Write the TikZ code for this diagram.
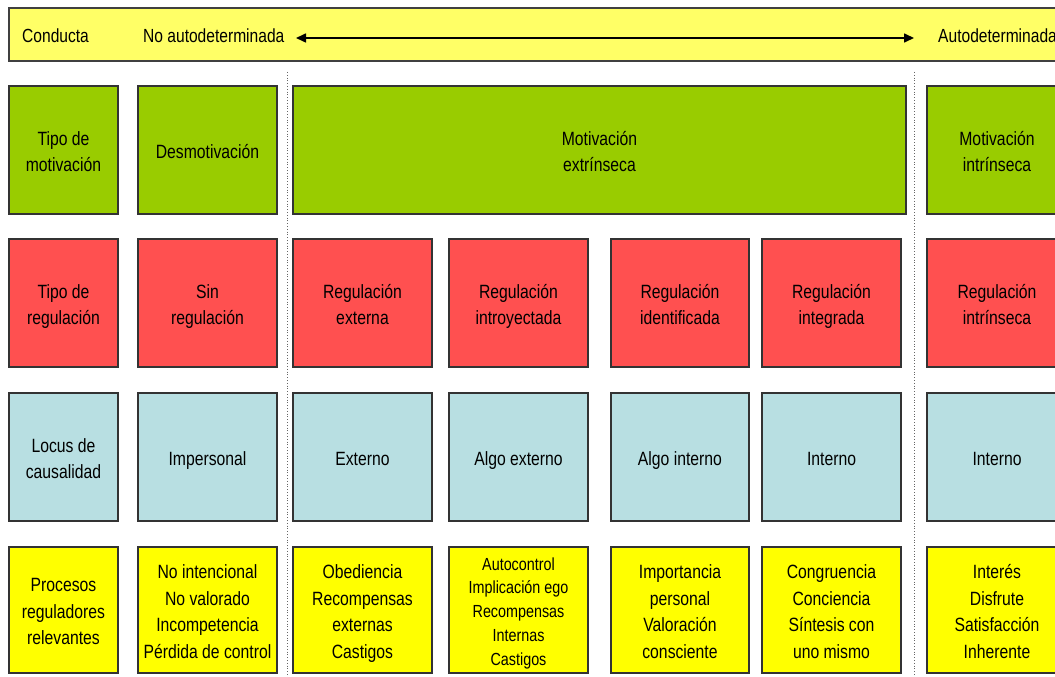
\documentclass[tikz,border=0pt]{standalone}
\usepackage{fontspec}
\setmainfont[FakeStretch=0.82]{Liberation Sans}
\usetikzlibrary{arrows.meta}
\definecolor{cgreen}{HTML}{99CC00}
\definecolor{cred}{HTML}{FF5050}
\definecolor{cblue}{HTML}{B8DFE2}
\definecolor{cyellow}{HTML}{FFFF00}
\definecolor{cbar}{HTML}{FFFF66}
\newcommand{\boxtext}[2][24.5pt]{\begin{tabular}{@{}c@{}}\rule{0pt}{#1}#2\end{tabular}}
\begin{document}
\begin{tikzpicture}[x=1pt,y=-1pt,
  box/.style={draw=black!80, line width=1.3pt, inner sep=0pt,
    font=\fontsize{19.2}{26.5}\selectfont},
  gbox/.style={box, fill=cgreen, minimum height=128pt},
  rbox/.style={box, fill=cred, minimum height=128pt},
  bbox/.style={box, fill=cblue, minimum height=128pt},
  ybox/.style={box, fill=cyellow, minimum height=126pt},
  w1/.style={minimum width=109pt},
  w/.style={minimum width=139pt},
  bartext/.style={anchor=west, inner sep=0pt, font=\fontsize{19}{24}\selectfont},
  sep/.style={draw=black!60, dotted, line width=0.8pt},
  dblarrow/.style={{Triangle[length=10pt,width=9pt]}-{Triangle[length=10pt,width=9pt]}, line width=1.6pt}]
\useasboundingbox (0,0) rectangle (1055,677);
\clip (0,0) rectangle (1055,677);
\fill[white] (0,0) rectangle (1055,677);

% top bar
\node[draw=black!75, line width=2pt, fill=cbar, minimum width=1061pt, minimum height=53pt, inner sep=0pt] (bar) at (539.5,34.5) {};
\node[bartext] (conducta) at (22,36) {Conducta};
\node[bartext] (noauto) at (143,36) {No autodeterminada};
\node[bartext] (auto) at (938,36) {Autodeterminada};
\coordinate (al) at (296,38);
\coordinate (ar) at (914,38);
\draw[dblarrow] (al) -- (ar);

% dotted separators
\coordinate (d1t) at (287,72); \coordinate (d1b) at (287,680);
\coordinate (d2t) at (914,72); \coordinate (d2b) at (914,680);
\draw[sep] (d1t) -- (d1b);
\draw[sep] (d2t) -- (d2b);

% row 1
\node[gbox, w1] (g1) at (63.5,150) {\boxtext{Tipo de\\motivación}};
\node[gbox, w] (g2) at (207.5,150) {\boxtext{Desmotivación}};
\node[gbox, minimum width=613pt] (g3) at (599.5,150) {\boxtext{Motivación\\extrínseca}};
\node[gbox, minimum width=140pt] (g7) at (997,150) {\boxtext{Motivación\\intrínseca}};

% row 2
\node[rbox, w1] (r1) at (63.5,303) {\boxtext{Tipo de\\regulación}};
\node[rbox, w] (r2) at (207.5,303) {\boxtext{Sin\\regulación}};
\node[rbox, w] (r3) at (362.5,303) {\boxtext{Regulación\\externa}};
\node[rbox, w] (r4) at (518.5,303) {\boxtext{Regulación\\introyectada}};
\node[rbox, minimum width=138pt] (r5) at (680,303) {\boxtext{Regulación\\identificada}};
\node[rbox, w] (r6) at (831.5,303) {\boxtext{Regulación\\integrada}};
\node[rbox, minimum width=140pt] (r7) at (997,303) {\boxtext{Regulación\\intrínseca}};

% row 3
\node[bbox, w1] (b1) at (63.5,457) {\boxtext{Locus de\\causalidad}};
\node[bbox, w] (b2) at (207.5,457) {\boxtext{Impersonal}};
\node[bbox, w] (b3) at (362.5,457) {\boxtext{Externo}};
\node[bbox, w] (b4) at (518.5,457) {\boxtext{Algo externo}};
\node[bbox, minimum width=138pt] (b5) at (680,457) {\boxtext{Algo interno}};
\node[bbox, w] (b6) at (831.5,457) {\boxtext{Interno}};
\node[bbox, minimum width=140pt] (b7) at (997,457) {\boxtext{Interno}};

% row 4
\node[ybox, w1] (y1) at (63.5,610) {\boxtext{Procesos\\reguladores\\relevantes}};
\node[ybox, w] (y2) at (207.5,610) {\boxtext{No intencional\\No valorado\\Incompetencia\\Pérdida de control}};
\node[ybox, w] (y3) at (362.5,610) {\boxtext{Obediencia\\Recompensas\\externas\\Castigos}};
\node[ybox, w, font=\fontsize{17.5}{23.8}\selectfont] (y4) at (518.5,610) {\boxtext[22.5pt]{Autocontrol\\Implicación ego\\Recompensas\\Internas\\Castigos}};
\node[ybox, minimum width=138pt] (y5) at (680,610) {\boxtext{Importancia\\personal\\Valoración\\consciente}};
\node[ybox, w] (y6) at (831.5,610) {\boxtext{Congruencia\\Conciencia\\Síntesis con\\uno mismo}};
\node[ybox, minimum width=140pt] (y7) at (997,610) {\boxtext{Interés\\Disfrute\\Satisfacción\\Inherente}};
\end{tikzpicture}
\end{document}
